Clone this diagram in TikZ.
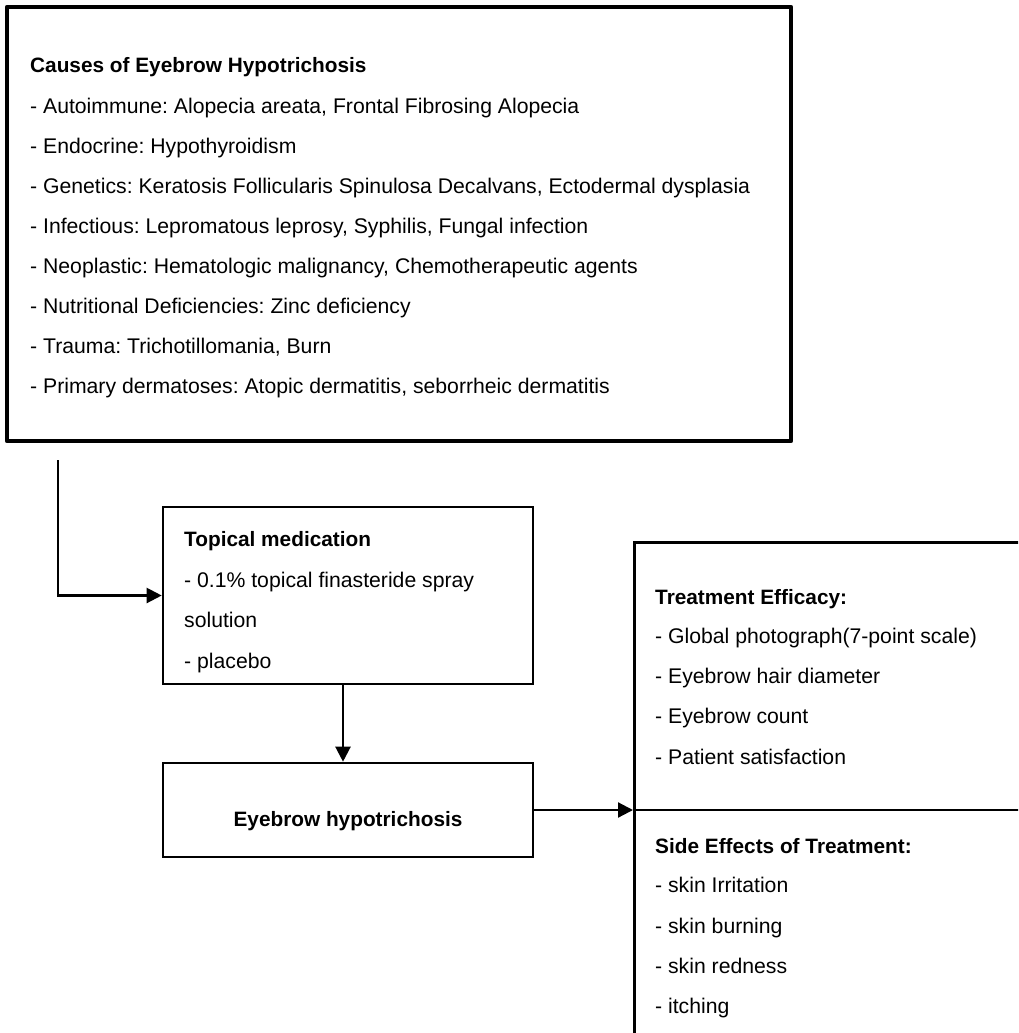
\documentclass[tikz,border=0pt]{standalone}
\usepackage{fontspec}
\setmainfont{Liberation Sans}
\usetikzlibrary{arrows.meta}
\begin{document}
\frenchspacing
\begin{tikzpicture}[x=1pt,y=-1pt,
  txt/.style={anchor=base west,inner sep=0pt,font=\fontsize{21.2}{24}\selectfont},
  hd/.style={txt,font=\fontsize{20.8}{24}\selectfont\bfseries},
  thickbox/.style={draw,line width=4.8pt,inner sep=0pt,line join=round},
  box/.style={draw,line width=2.6pt,inner sep=0pt},
  conn/.style={line width=2.2pt,-{Triangle[length=15pt,width=15pt]}},
  plain/.style={line width=2.6pt}]
\useasboundingbox (0,0) rectangle (1018,1033);
\clip (0,0) rectangle (1018,1033);
\fill[white] (0,0) rectangle (1018,1033);

% top box
\node[thickbox,minimum width=784pt,minimum height=434pt] (causes) at (399,224) {};
\node[hd] (c0) at (30,73) {Causes of Eyebrow Hypotrichosis};
\node[txt] (c1) at (30,113) {- Autoimmune: Alopecia areata, Frontal Fibrosing Alopecia};
\node[txt] (c2) at (30,153) {- Endocrine: Hypothyroidism};
\node[txt] (c3) at (30,193) {- Genetics: Keratosis Follicularis Spinulosa Decalvans, Ectodermal dysplasia};
\node[txt] (c4) at (30,233) {- Infectious: Lepromatous leprosy, Syphilis, Fungal infection};
\node[txt] (c5) at (30,273) {- Neoplastic: Hematologic malignancy, Chemotherapeutic agents};
\node[txt] (c6) at (30,313) {- Nutritional Deficiencies: Zinc deficiency};
\node[txt] (c7) at (30,353) {- Trauma: Trichotillomania, Burn};
\node[txt] (c8) at (30,393) {- Primary dermatoses: Atopic dermatitis, seborrheic dermatitis};

% topical box
\node[box,minimum width=370pt,minimum height=177pt] (topical) at (348,595.5) {};
\node[hd] (t0) at (184,546) {Topical medication};
\node[txt] (t1) at (184,587) {- 0.1\% topical finasteride spray};
\node[txt] (t2) at (184,627) {solution};
\node[txt] (t3) at (184,668) {- placebo};

% eyebrow box
\node[box,minimum width=370pt,minimum height=94pt] (eyebrow) at (348,810) {};
\node[hd,anchor=base] (e0) at (348,826) {Eyebrow hypotrichosis};

% right box (extends beyond the page)
\node[box,anchor=north west,minimum width=420pt,minimum height=520pt] (outcome) at (633,541) {};
\coordinate (divL) at (633,810);
\coordinate (divR) at (1060,810);
\draw[plain] (divL) -- (divR);
\node[hd] (o0) at (655,604) {Treatment Efficacy:};
\node[txt] (o1) at (655,643) {- Global photograph(7-point scale)};
\node[txt] (o2) at (655,683) {- Eyebrow hair diameter};
\node[txt] (o3) at (655,723) {- Eyebrow count};
\node[txt] (o4) at (655,764) {- Patient satisfaction};
\node[hd] (s0) at (655,853) {Side Effects of Treatment:};
\node[txt] (s1) at (655,892) {- skin Irritation};
\node[txt] (s2) at (655,933) {- skin burning};
\node[txt] (s3) at (655,973) {- skin redness};
\node[txt] (s4) at (655,1013) {- itching};

% connectors
\coordinate (start) at (58,460);
\coordinate (vx) at (343,0);
\draw[conn] (start) |- (topical.west);
\draw[conn] (topical.south -| vx) -- (eyebrow.north -| vx);
\draw[conn] (eyebrow.east) -- (divL);
\end{tikzpicture}
\end{document}
